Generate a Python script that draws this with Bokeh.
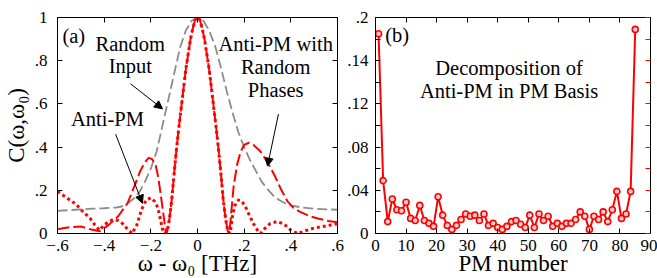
from bokeh.plotting import figure
from bokeh.layouts import row
from bokeh.models import (FixedTicker, LinearAxis, Range1d, Label, Arrow, NormalHead,
                          CustomLabelingPolicy)
from bokeh.embed import file_html
from bokeh.resources import INLINE

FONT = "Liberation Serif"

# ---------------- data: panel (a) ----------------
x_random = [-0.6, -0.55, -0.5, -0.45, -0.4, -0.35, -0.325, -0.3, -0.275, -0.25,
            -0.225, -0.2, -0.175, -0.15, -0.125, -0.1, -0.075, -0.05, -0.025, 0.0,
            0.025, 0.05, 0.075, 0.1, 0.125, 0.15, 0.175, 0.2, 0.225, 0.25,
            0.275, 0.3, 0.325, 0.35, 0.375, 0.4, 0.45, 0.5, 0.55, 0.6]
y_random = [0.105, 0.108, 0.112, 0.115, 0.117, 0.12, 0.125, 0.14, 0.16, 0.19,
            0.24, 0.3, 0.38, 0.5, 0.62, 0.74, 0.86, 0.94, 0.985, 1.0,
            0.985, 0.94, 0.87, 0.77, 0.66, 0.56, 0.47, 0.4, 0.34, 0.29,
            0.24, 0.205, 0.175, 0.155, 0.14, 0.13, 0.12, 0.115, 0.112, 0.11]

x_antipm_rp = [-0.6, -0.57, -0.54, -0.5, -0.46, -0.42, -0.38, -0.34, -0.3, -0.27,
               -0.245, -0.225, -0.21, -0.195, -0.18, -0.17, -0.16, -0.15, -0.14, -0.135,
               -0.13, -0.12, -0.11, -0.1, -0.09, -0.08, -0.07, -0.06, -0.05, -0.04,
               -0.03, -0.02, -0.01, 0.0, 0.01, 0.02, 0.03, 0.04, 0.05, 0.06,
               0.07, 0.08, 0.09, 0.1, 0.11, 0.12, 0.13,
               0.135, 0.14, 0.145, 0.155, 0.17, 0.185, 0.2, 0.22, 0.24, 0.27,
               0.3, 0.33, 0.36, 0.385, 0.41, 0.44, 0.48, 0.52, 0.56, 0.6]
y_antipm_rp = [0.02, 0.025, 0.03, 0.032, 0.02, 0.01, 0.04, 0.08, 0.14, 0.22,
               0.29, 0.33, 0.35, 0.345, 0.32, 0.27, 0.2, 0.12, 0.04, 0.0,
               0.01, 0.07, 0.16, 0.28, 0.39, 0.49, 0.58, 0.67, 0.76, 0.83,
               0.9, 0.95, 0.99, 1.0, 0.99, 0.95, 0.9, 0.83, 0.76, 0.67,
               0.58, 0.49, 0.39, 0.28, 0.16, 0.07, 0.01,
               0.0, 0.04, 0.1, 0.22, 0.32, 0.38, 0.41, 0.42, 0.41, 0.38,
               0.33, 0.27, 0.2, 0.15, 0.12, 0.1, 0.08, 0.068, 0.058, 0.052]

x_antipm = [-0.6, -0.56, -0.52, -0.49, -0.46, -0.44, -0.42, -0.4, -0.38, -0.36,
            -0.34, -0.32, -0.3, -0.28, -0.26, -0.24, -0.22, -0.2, -0.185, -0.17,
            -0.16, -0.15, -0.14,
            -0.13, -0.12, -0.11, -0.1, -0.09, -0.08, -0.07, -0.06, -0.05, -0.04,
            -0.03, -0.02, -0.01, 0.0, 0.01, 0.02, 0.03, 0.04, 0.05, 0.06,
            0.07, 0.08, 0.09, 0.1, 0.11, 0.12, 0.13,
            0.14, 0.15, 0.16, 0.175, 0.19, 0.205, 0.22, 0.24, 0.26, 0.27,
            0.29, 0.31, 0.34, 0.37, 0.4, 0.43, 0.46, 0.5, 0.55, 0.6]
y_antipm = [0.195, 0.165, 0.135, 0.1, 0.07, 0.04, 0.015, 0.04, 0.055, 0.065,
            0.06, 0.045, 0.02, 0.0, 0.04, 0.11, 0.155, 0.165, 0.15, 0.12,
            0.07, 0.02, 0.0,
            0.01, 0.07, 0.16, 0.28, 0.39, 0.49, 0.58, 0.67, 0.76, 0.83,
            0.9, 0.95, 0.99, 1.0, 0.99, 0.95, 0.9, 0.83, 0.76, 0.67,
            0.58, 0.49, 0.39, 0.28, 0.16, 0.07, 0.01,
            0.0, 0.08, 0.13, 0.155, 0.15, 0.125, 0.09, 0.045, 0.01, 0.0,
            0.025, 0.045, 0.055, 0.045, 0.015, 0.0, 0.012, 0.025, 0.035, 0.045]

a_xticks = [-0.6, -0.4, -0.2, 0.0, 0.2, 0.4, 0.6]
a_xlabels = ["\u2212.6", "\u2212.4", "\u2212.2", "0", ".2", ".4", ".6"]
a_yticks = [0.0, 0.2, 0.4, 0.6, 0.8, 1.0]
a_ylabels = ["0", ".2", ".4", ".6", ".8", "1"]

# ---------------- data: panel (b) ----------------
pm_number = [1, 2.5, 4, 5.5, 7, 8.5, 10, 11.5, 13, 14.5, 16, 17.5, 19, 20.5, 22,
             23.5, 25, 26.5, 28, 29.5, 31, 32.5, 34, 35.5, 37, 38.5, 40, 41.5, 43,
             44.5, 46, 47.5, 49, 50.5, 52, 53.5, 55, 56.5, 58, 59.5, 61, 62.5, 64,
             65.5, 67, 68.5, 70, 71.5, 73, 74.5, 76, 77.5, 79, 80.5, 82, 83.5, 85]
pm_weight = [0.185, 0.049, 0.011, 0.032, 0.022, 0.021, 0.029, 0.014, 0.012, 0.026,
             0.012, 0.0094, 0.0066, 0.034, 0.017, 0.0075, 0.0038, 0.0075, 0.013, 0.018,
             0.016, 0.017, 0.012, 0.018, 0.0075, 0.0094, 0.0056, 0.0038, 0.0066, 0.011,
             0.012, 0.0085, 0.0056, 0.017, 0.0056, 0.018, 0.012, 0.016, 0.0066, 0.0094,
             0.0066, 0.0094, 0.0094, 0.013, 0.02, 0.016, 0.0038, 0.016, 0.013, 0.02,
             0.011, 0.022, 0.039, 0.014, 0.018, 0.039, 0.189]

b_xticks = [0, 10, 20, 30, 40, 50, 60, 70, 80, 90]
b_xlabels = ["0", "10", "20", "30", "40", "50", "60", "70", "80", "90"]
b_yticks = [0.0, 0.04, 0.08, 0.12, 0.16, 0.2]
b_ylabels = ["0", ".04", ".08", ".12", ".14", ".2"]
b_yminor = [0.02, 0.06, 0.1, 0.14, 0.18]

FIG_H = 278


def base_fig(width, xr, yr, bl, br):
    p = figure(width=width, height=FIG_H, x_range=Range1d(*xr), y_range=Range1d(*yr),
               output_backend="svg", toolbar_location=None, title=None,
               min_border_left=bl, min_border_right=br, min_border_top=17,
               min_border_bottom=10)
    p.xgrid.visible = False
    p.ygrid.visible = False
    p.outline_line_color = "black"
    p.outline_line_width = 1
    p.background_fill_color = "white"
    p.border_fill_color = "white"
    return p


def setup_axes(p, xticks, xlabels, yticks, ylabels, xlabel, ylabel,
               yminor=None, right_tick_color="black", y_standoff=10):
    xt = FixedTicker(ticks=xticks, minor_ticks=[])
    yt = FixedTicker(ticks=yticks, minor_ticks=yminor or [])
    p.add_layout(LinearAxis(ticker=xt, major_label_policy=CustomLabelingPolicy(code="return []")), "above")
    p.add_layout(LinearAxis(ticker=yt, major_label_policy=CustomLabelingPolicy(code="return []")), "right")
    for ax in p.xaxis + p.yaxis:
        ax.axis_line_color = "black"
        ax.major_tick_in = 5
        ax.major_tick_out = 0
        ax.minor_tick_in = 5
        ax.minor_tick_out = 0
        ax.major_tick_line_color = "black"
        ax.minor_tick_line_color = "black"
        ax.major_label_text_font = FONT
        ax.major_label_text_font_size = "17px"
        ax.major_label_text_color = "black"
        ax.axis_label_text_font = FONT
        ax.axis_label_text_font_style = "normal"
        ax.axis_label_text_color = "black"
        ax.axis_label_text_font_size = "23px"
    bx = p.below[0]
    bx.ticker = xt
    bx.major_label_overrides = dict(zip(xticks, xlabels))
    bx.major_label_standoff = 6
    bx.axis_label = xlabel
    bx.axis_label_standoff = -3
    ly = p.left[0]
    ly.ticker = yt
    ly.major_label_overrides = dict(zip(yticks, ylabels))
    ly.major_label_standoff = y_standoff
    if ylabel:
        ly.axis_label = ylabel
        ly.axis_label_standoff = 3
    for ax in (p.above[0], p.right[0]):
        ax.major_label_text_font_size = "2px"
        ax.major_label_standoff = 0
    p.right[0].major_tick_line_color = right_tick_color
    p.right[0].minor_tick_line_color = right_tick_color


def add_text(p, txt, x, y, align="center"):
    p.add_layout(Label(x=x, y=y, text=txt, text_font=FONT, text_font_size="20.5px",
                       text_align=align, text_baseline="middle", text_color="black"))


# ---------------- panel (a) ----------------
p1 = base_fig(344, (-0.6, 0.6), (0, 1), 57, 7)
setup_axes(p1, a_xticks, a_xlabels, a_yticks, a_ylabels,
           "\u03c9 - \u03c9\u2080 [THz]", "C(\u03c9,\u03c9\u2080)")

p1.line(x_random, y_random, line_color="#8c8c8c", line_width=1.8, line_dash="10 4")
p1.line(x_antipm_rp, y_antipm_rp, line_color="#ff0000", line_width=2, line_dash="12 4")
p1.line(x_antipm, y_antipm, line_color="#ff0000", line_width=3, line_dash="3 3")

add_text(p1, "(a)", -0.579, 0.913, "left")
add_text(p1, "Random", -0.288, 0.879)
add_text(p1, "Input", -0.288, 0.774)
add_text(p1, "Anti-PM with", 0.335, 0.879)
add_text(p1, "Random", 0.335, 0.772)
add_text(p1, "Phases", 0.335, 0.663)
add_text(p1, "Anti-PM", -0.386, 0.528)

for xs, ys, xe, ye in [(-0.287, 0.693, -0.15, 0.577),
                       (0.347, 0.553, 0.30, 0.312),
                       (-0.351, 0.46, -0.236, 0.14)]:
    p1.add_layout(Arrow(end=NormalHead(size=8, fill_color="black", line_color="black"),
                        x_start=xs, y_start=ys, x_end=xe, y_end=ye,
                        line_color="black", line_width=1))

# ---------------- panel (b) ----------------
p2 = base_fig(313, (0, 90), (0, 0.2), 29, 4)
setup_axes(p2, b_xticks, b_xlabels, b_yticks, b_ylabels, "PM number", None,
           yminor=b_yminor, right_tick_color="#ff0000", y_standoff=7)

p2.line(pm_number, pm_weight, line_color="#ff0000", line_width=2)
p2.scatter(pm_number, pm_weight, marker="circle", size=6, line_color="#ff0000",
           line_width=1.6, fill_color="#ffd0d0")

add_text(p2, "(b)", 3.2, 0.1835, "left")
add_text(p2, "Decomposition of", 43.7, 0.153)
add_text(p2, "Anti-PM in PM Basis", 43.7, 0.1316)

layout = row(p1, p2)
open("out.html", "w").write(file_html(layout, INLINE))
